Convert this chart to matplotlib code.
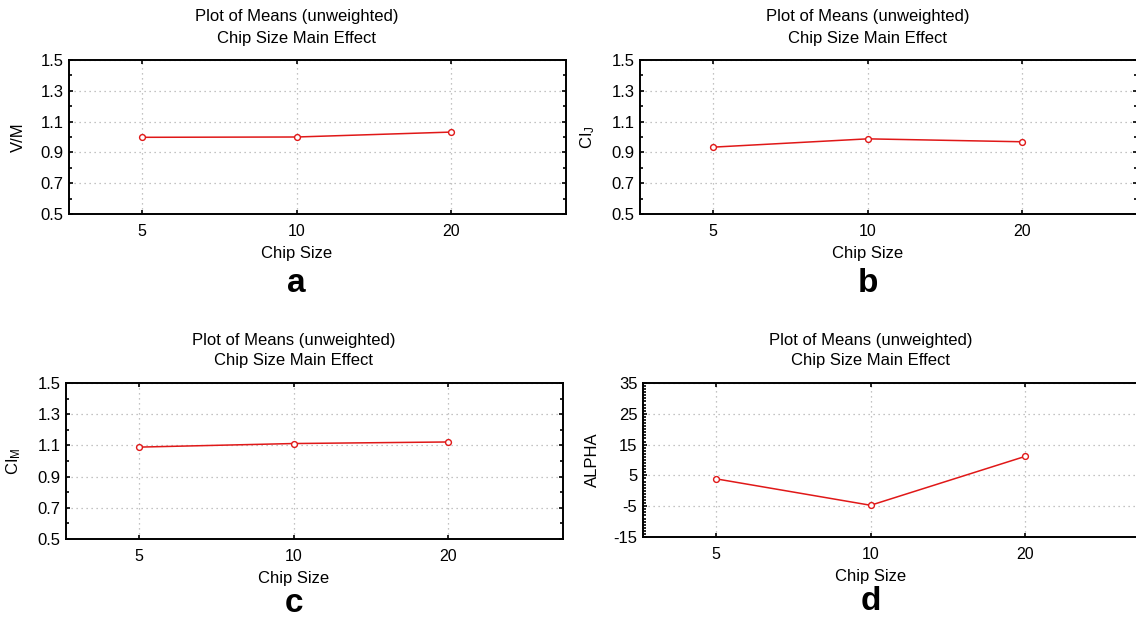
import matplotlib
matplotlib.use("Agg")
import matplotlib.pyplot as plt
from matplotlib.ticker import MultipleLocator, FixedLocator
from matplotlib.transforms import blended_transform_factory

plt.rcParams["font.family"] = ["Liberation Sans", "DejaVu Sans"]
plt.rcParams["mathtext.default"] = "regular"
plt.rcParams["axes.unicode_minus"] = False

# Chip size levels and the unweighted means for each response
chip_sizes = ["5", "10", "20"]
vm_means = [0.998, 1.000, 1.032]
cij_means = [0.934, 0.988, 0.969]
cim_means = [1.089, 1.112, 1.122]
alpha_means = [3.9, -4.7, 11.2]

ratio_ticks = [0.5, 0.7, 0.9, 1.1, 1.3, 1.5]
alpha_ticks = [-15, -5, 5, 15, 25, 35]

panels = [
    # letter, values, y label, y ticks, minor step, axes rect (px), letter offset
    ("a", vm_means, "V/M", ratio_ticks, 0.1, (69, 60, 214), -69),
    ("b", cij_means, "CI$_J$", ratio_ticks, 0.1, (640, 60, 214), -69),
    ("c", cim_means, "CI$_M$", ratio_ticks, 0.1, (66, 383, 539), -65),
    ("d", alpha_means, "ALPHA", alpha_ticks, 1, (643, 383, 537), -65),
]

W, H = 1136, 620
fig = plt.figure(figsize=(W / 100, H / 100), dpi=100)

for letter, values, ylabel, yticks, minor, (left, top, bottom), loff in panels:
    ax = fig.add_axes([left / W, 1 - bottom / H, 497 / W, (bottom - top) / H])
    ax.plot(chip_sizes, values, color="#e01818", linewidth=1.1,
            marker="o", markersize=4.2, markerfacecolor="white",
            markeredgecolor="#e01818", markeredgewidth=1.0, zorder=3)

    ax.set_xlim(-0.47, 2.74)
    ax.set_ylim(yticks[0], yticks[-1])
    ax.yaxis.set_major_locator(FixedLocator(yticks))
    ax.set_yticklabels([f"{t:g}" for t in yticks])
    ax.yaxis.set_minor_locator(MultipleLocator(minor))
    ax.grid(True, which="major", linestyle=(0, (1, 3)), color="#b0b0b0",
            linewidth=0.9)

    for sp in ax.spines.values():
        sp.set_linewidth(1.4)
        sp.set_color("black")
    ax.tick_params(which="both", direction="in", top=True, right=True,
                   width=1.2)
    ax.tick_params(which="major", length=3, pad=7)
    ax.tick_params(which="minor", length=2.5)
    ax.tick_params(axis="y", pad=4, labelsize=12)
    ax.tick_params(axis="x", labelsize=11.5)

    ax.set_ylabel(ylabel, fontsize=12)
    ax.yaxis.set_label_coords(-0.087, 0.5)

    # Titles, axis label and panel letter centred on the middle level
    tr = blended_transform_factory(ax.transData, ax.transAxes)
    h = bottom - top
    ax.text(1, (bottom - (top - 43)) / h, "Plot of Means (unweighted)",
            transform=tr, ha="center", va="center", fontsize=12)
    ax.text(1, (bottom - (top - 22)) / h, "Chip Size Main Effect",
            transform=tr, ha="center", va="center", fontsize=12)
    ax.text(1, -39 / h, "Chip Size", transform=tr, ha="center",
            va="center", fontsize=12)
    ax.text(1, loff / h, letter, transform=tr, ha="center", va="center",
            fontsize=24, fontweight="bold")

fig.savefig("out.png", dpi=100)
